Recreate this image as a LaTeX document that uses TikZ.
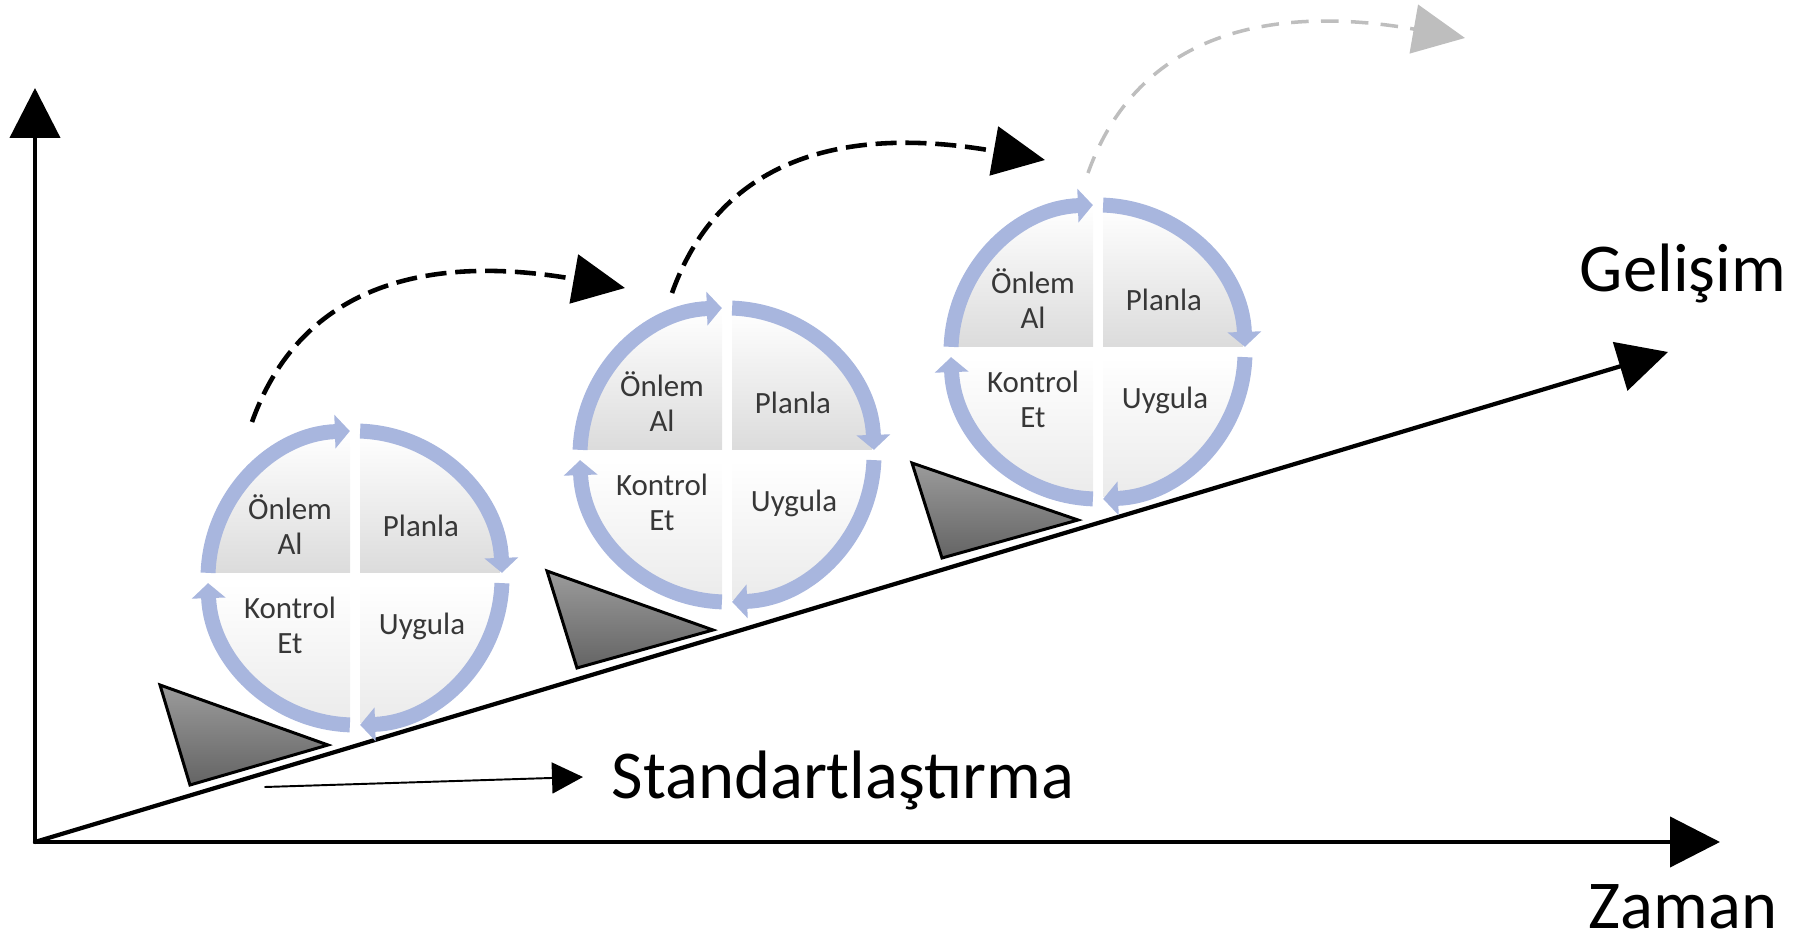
\documentclass[tikz,border=0pt]{standalone}
\usepackage{fontspec}
\setmainfont{Carlito}
\usetikzlibrary{arrows.meta}
\definecolor{ringblue}{RGB}{168,182,222}
\definecolor{labelgray}{RGB}{55,55,55}
\definecolor{wedgetop}{RGB}{155,155,155}
\definecolor{wedgebot}{RGB}{100,100,100}
\definecolor{fadegray}{RGB}{190,190,190}
\begin{document}
\begin{tikzpicture}[x=0.02cm, y=0.02cm, line join=round, line cap=round,
    axis/.style={line width=2.4pt, -{Triangle[length=1cm, width=1cm]}},
    jump/.style={line width=2.6pt, line cap=butt, dash pattern=on 12pt off 5pt, -{Triangle[length=1.04cm, width=0.98cm]}},
    ring/.style={ringblue, line width=8.5pt, line cap=butt, -{Triangle[length=0.3cm, width=0.66cm]}},
    quad/.style={font=\fontsize{17.6}{20}\selectfont, text=labelgray, align=center, inner sep=0pt},
    big/.style={font=\fontsize{39}{46}\selectfont, anchor=base, inner sep=0pt},
    wedge/.style={draw, line width=1.7pt, line join=miter, top color=wedgetop, bottom color=wedgebot}]
\useasboundingbox (0,0) rectangle (1810,940);
\coordinate (O) at (35,98);
\coordinate (ytip) at (35,852);
\coordinate (xtip) at (1720,98);
\coordinate (gtip) at (1668,588);
\draw[axis] (O) -- (ytip);
\draw[axis] (O) -- (xtip);
\draw[axis] (O) -- (gtip);
\node[big] (gelisim) at (1683,648) {Gelişim};
\node[big] (zaman) at (1683,11) {Zaman};
\node[big] (std) at (843,141) {Standartlaştırma};
\coordinate (st) at (265,153);
\coordinate (sttip) at (583,163);
\draw[line width=1.1pt, -{Triangle[length=0.62cm, width=0.62cm]}] (st) -- (sttip);
\draw[wedge] (160,255) -- (190,155) -- (328,195) -- cycle;
\draw[wedge] (547,369) -- (577,272) -- (713,310) -- cycle;
\draw[wedge] (912,477) -- (942,382) -- (1078,420) -- cycle;
\foreach \c/\cx/\cy in {1/355/362, 2/727/485, 3/1098/588}{
  \coordinate (c\c) at (\cx,\cy);
  \shade[top color=white, bottom color=gray!28] (\cx-5,\cy+5) -- (\cx-145,\cy+5) arc[start angle=180, end angle=90, radius=140] -- cycle;
  \shade[top color=white, bottom color=gray!28] (\cx+5,\cy+5) -- (\cx+5,\cy+145) arc[start angle=90, end angle=0, radius=140] -- cycle;
  \shade[top color=white, bottom color=gray!16] (\cx+5,\cy-5) -- (\cx+145,\cy-5) arc[start angle=0, end angle=-90, radius=140] -- cycle;
  \shade[top color=white, bottom color=gray!16] (\cx-5,\cy-5) -- (\cx-5,\cy-145) arc[start angle=270, end angle=180, radius=140] -- cycle;
  \foreach \a in {178,88,-2,-92}
    \draw[ring] (c\c) ++(\a:147) arc[start angle=\a, end angle=\a-86, radius=147];
  \node[quad] (onlem\c) at (\cx-65,\cy+53) {Önlem\\Al};
  \node[quad] (planla\c) at (\cx+66,\cy+52) {Planla};
  \node[quad] (kontrol\c) at (\cx-65,\cy-47) {Kontrol\\Et};
  \node[quad] (uygula\c) at (\cx+67,\cy-48) {Uygula};
}
\coordinate (s1) at (252,518);
\coordinate (t1) at (625,652);
\coordinate (s2) at (672,647);
\coordinate (t2) at (1045,780);
\coordinate (s3) at (1088,767);
\coordinate (t3) at (1465,902);
\draw[jump] (s1) .. controls +(50,140) and +(-193,34) .. (t1);
\draw[jump] (s2) .. controls +(50,140) and +(-193,34) .. (t2);
\draw[jump, fadegray, line width=2pt, dash pattern=on 10pt off 7pt] (s3) .. controls +(50,140) and +(-195,34) .. (t3);
\end{tikzpicture}
\end{document}
